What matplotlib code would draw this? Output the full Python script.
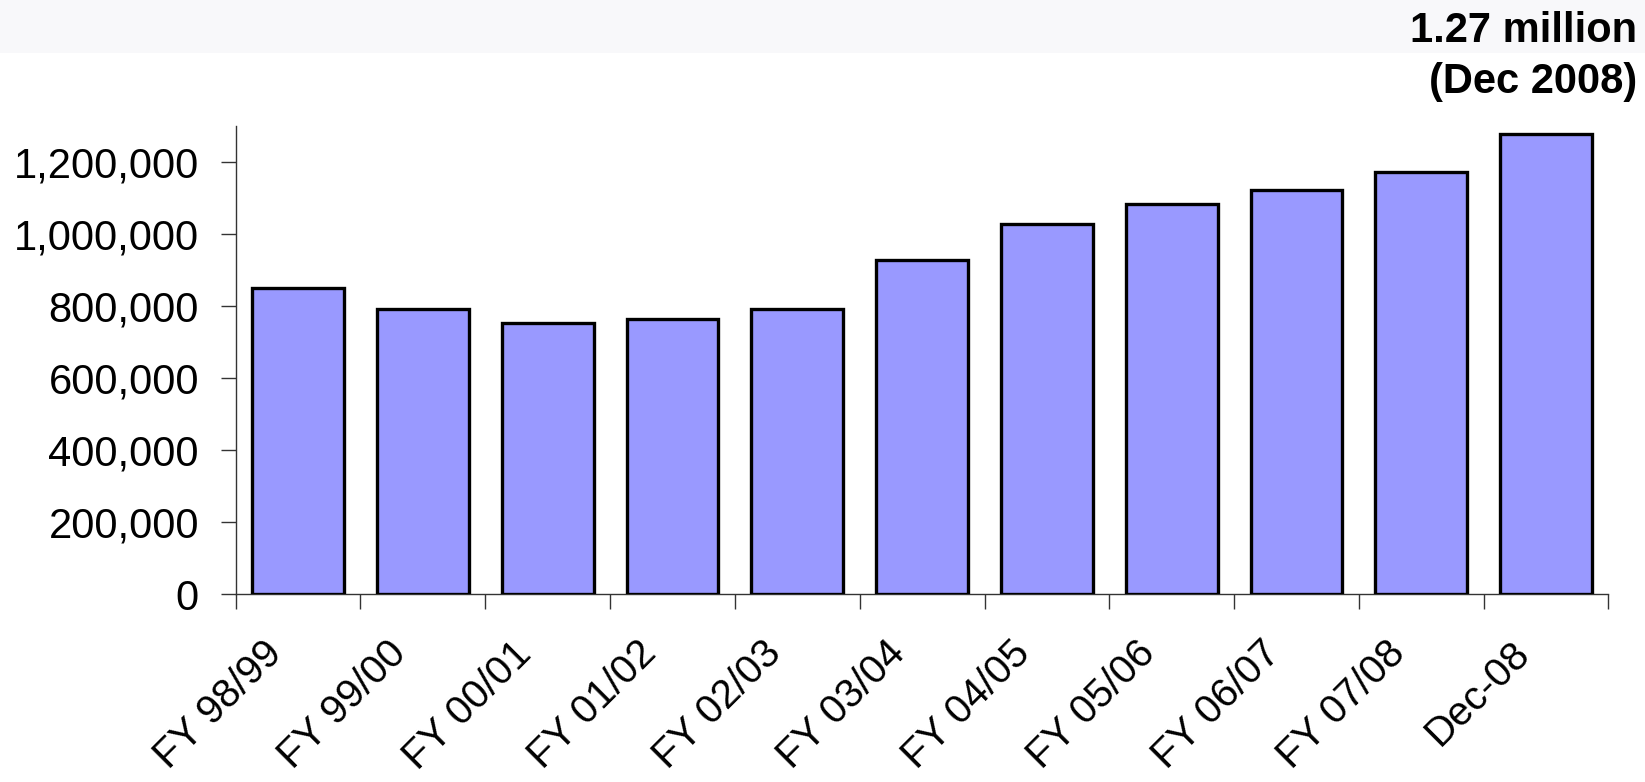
import matplotlib
matplotlib.use("Agg")
import matplotlib.pyplot as plt
import matplotlib.transforms as mtransforms
from matplotlib.ticker import FuncFormatter, FixedLocator
import numpy as np

categories = ["FY 98/99", "FY 99/00", "FY 00/01", "FY 01/02", "FY 02/03", "FY 03/04",
              "FY 04/05", "FY 05/06", "FY 06/07", "FY 07/08", "Dec-08"]
values = [851000, 793000, 754000, 764000, 792000, 928000,
          1027000, 1083000, 1122000, 1171000, 1277000]
yticks = [0, 200000, 400000, 600000, 800000, 1000000, 1200000]
annotation_lines = ["1.27 million", "(Dec 2008)"]

plt.rcParams['font.family'] = ['Liberation Sans', 'DejaVu Sans']

W, H = 1645, 782
fig = plt.figure(figsize=(W / 100, H / 100), dpi=100)

# light band at top
fig.patches.append(plt.Rectangle((0, 1 - 53 / H), 1, 53 / H, transform=fig.transFigure,
                                 facecolor='#F8F8FA', edgecolor='none', zorder=0))

ax = fig.add_axes([235.7 / W, 1 - 594 / H, (1608.5 - 235.7) / W, (594 - 126) / H])
x = np.arange(len(categories))
ax.bar(x, values, width=0.735, color='#9999FF', edgecolor='black', linewidth=2.4, zorder=3)

ax.set_xlim(-0.5, len(categories) - 0.5)
ax.set_ylim(0, 1300000)
ax.set_yticks(yticks)
ax.yaxis.set_major_formatter(FuncFormatter(lambda v, p: f"{int(v):,}"))

for s in ['top', 'right']:
    ax.spines[s].set_visible(False)
for s in ['left', 'bottom']:
    ax.spines[s].set_linewidth(1.0)
    ax.spines[s].set_color('#333333')

ax.tick_params(axis='y', length=10.5, width=1.0, color='#333333', labelsize=30, pad=16)
ax.set_xticks(x)
ax.set_xticklabels(categories, rotation=45, ha='right', va='top', rotation_mode='anchor', fontsize=29)
ax.xaxis.set_minor_locator(FixedLocator(np.arange(-0.5, len(categories), 1.0)))
ax.tick_params(axis='x', which='major', length=0, pad=29)
ax.tick_params(axis='x', which='minor', length=10.5, width=1.0, color='#333333')

offset = mtransforms.ScaledTranslation(-36 / 100, 0, fig.dpi_scale_trans)
for lab in ax.get_xticklabels():
    lab.set_transform(lab.get_transform() + offset)

fig.text(1637 / W, 1 - 42 / H, annotation_lines[0], ha='right', va='baseline', fontsize=30,
         fontweight='bold')
fig.text(1637 / W, 1 - 93 / H, annotation_lines[1], ha='right', va='baseline', fontsize=30,
         fontweight='bold')

fig.savefig('out.png', dpi=100, facecolor='white')
